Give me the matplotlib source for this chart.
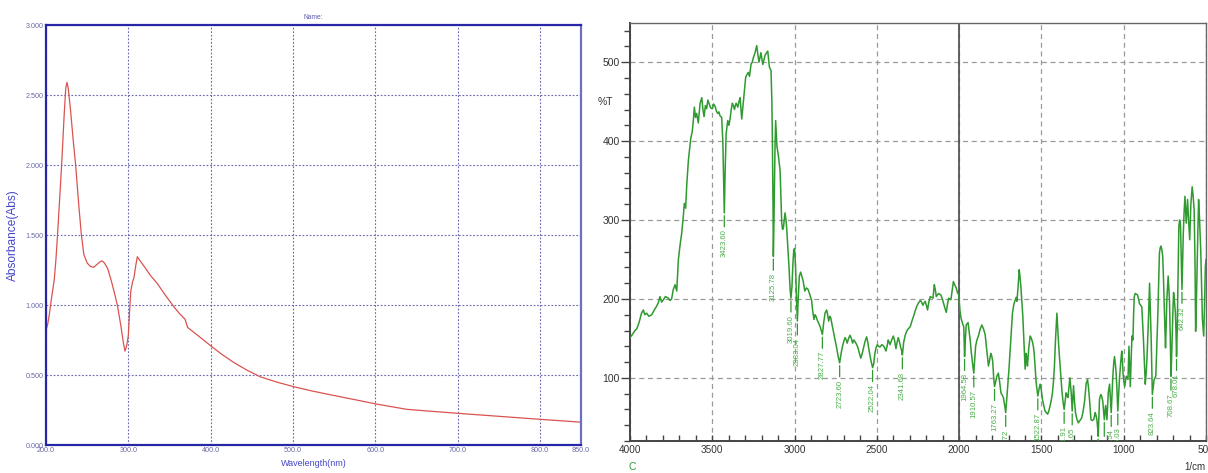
import matplotlib
matplotlib.use("Agg")
import matplotlib.pyplot as plt
from matplotlib.ticker import MultipleLocator, FixedLocator, FormatStrFormatter

# ---------------- data ----------------
uv_wavelength = [200, 202, 204, 206, 208, 210, 212, 214, 216, 219, 222, 224, 225.5, 227, 230, 233,
                 236, 240, 243, 246, 250, 254, 258, 262, 266, 268, 271, 275, 279, 283, 287, 291,
                 294, 296, 298, 300, 301.5, 303, 305, 307, 309, 311, 315, 320, 327, 335, 345, 355,
                 362, 369, 372, 385, 399, 413, 428, 444, 460, 480, 500, 520, 537, 570, 601, 638,
                 670, 701, 750, 799, 850]
uv_absorbance = [0.82, 0.86, 0.93, 1.02, 1.10, 1.18, 1.32, 1.50, 1.70, 2.00, 2.35, 2.55, 2.59, 2.55,
                 2.38, 2.18, 2.00, 1.70, 1.50, 1.36, 1.30, 1.275, 1.27, 1.29, 1.31, 1.315, 1.30,
                 1.26, 1.18, 1.09, 0.99, 0.85, 0.73, 0.67, 0.71, 0.78, 0.95, 1.10, 1.16, 1.20,
                 1.28, 1.345, 1.31, 1.27, 1.21, 1.155, 1.07, 0.99, 0.94, 0.898, 0.84, 0.78, 0.714,
                 0.65, 0.59, 0.535, 0.488, 0.45, 0.418, 0.39, 0.369, 0.33, 0.293, 0.255, 0.24,
                 0.226, 0.205, 0.184, 0.163]

ir_wavenumber = [4000, 3985, 3970, 3959, 3945, 3930, 3919, 3910, 3899, 3885, 3868, 3855, 3838, 3828,
                 3818, 3808, 3797, 3785, 3767, 3757, 3747, 3737, 3726, 3716, 3706, 3696, 3686, 3676,
                 3670, 3662, 3655, 3645, 3631, 3622, 3615, 3609, 3602, 3595, 3585, 3574, 3564, 3557,
                 3550, 3542, 3534, 3527, 3520, 3510, 3500, 3492, 3483, 3475, 3467, 3460, 3453, 3443,
                 3436, 3430, 3427, 3422, 3416, 3406, 3399, 3392, 3385, 3378, 3372, 3365, 3360, 3355,
                 3345, 3338, 3331, 3321, 3311, 3305, 3297, 3290, 3281, 3274, 3264, 3257, 3250, 3240,
                 3230, 3222, 3216, 3210, 3205, 3199, 3193, 3186, 3179, 3170, 3163, 3153, 3143, 3138,
                 3135, 3131, 3129, 3125, 3123, 3119, 3115, 3111, 3107, 3100, 3094, 3088, 3083, 3078,
                 3073, 3068, 3063, 3058, 3052, 3048, 3041, 3034, 3027, 3022, 3016, 3010, 3005, 3000,
                 2994, 2988, 2983, 2978, 2971, 2963, 2955, 2948, 2938, 2928, 2918, 2911, 2904, 2897,
                 2890, 2882, 2876, 2870, 2862, 2855, 2845, 2838, 2831, 2823, 2815, 2805, 2799, 2793,
                 2786, 2780, 2773, 2766, 2756, 2746, 2736, 2726, 2718, 2710, 2700, 2693, 2686, 2680,
                 2672, 2663, 2655, 2647, 2640, 2633, 2625, 2616, 2607, 2598, 2590, 2582, 2572, 2562,
                 2555, 2546, 2536, 2526, 2519, 2512, 2505, 2497, 2489, 2481, 2470, 2461, 2453, 2445,
                 2438, 2431, 2425, 2420, 2410, 2400, 2392, 2384, 2377, 2370, 2363, 2356, 2350, 2345,
                 2337, 2329, 2321, 2314, 2305, 2297, 2287, 2277, 2267, 2257, 2247, 2236, 2228, 2220,
                 2213, 2206, 2199, 2192, 2184, 2176, 2167, 2159, 2155, 2151, 2145, 2139, 2132, 2125,
                 2118, 2111, 2102, 2094, 2086, 2078, 2071, 2064, 2057, 2050, 2043, 2035, 2027, 2018,
                 2010, 2002, 1995, 1988, 1978, 1972, 1967, 1962, 1957, 1946, 1940, 1933, 1925, 1919,
                 1911, 1905, 1900, 1892, 1883, 1872, 1862, 1852, 1842, 1832, 1822, 1815, 1808, 1802,
                 1796, 1790, 1785, 1778, 1771, 1762, 1754, 1746, 1738, 1731, 1724, 1717, 1711, 1705,
                 1697, 1690, 1683, 1676, 1668, 1659, 1654, 1649, 1642, 1635, 1630, 1625, 1619, 1613,
                 1606, 1599, 1596, 1593, 1589, 1585, 1576, 1568, 1561, 1554, 1549, 1544, 1538, 1532,
                 1527, 1522, 1515, 1508, 1501, 1494, 1486, 1478, 1470, 1462, 1455, 1447, 1440, 1433,
                 1427, 1421, 1414, 1406, 1399, 1392, 1384, 1376, 1369, 1362, 1356, 1350, 1345, 1339,
                 1333, 1327, 1323, 1319, 1313, 1309, 1305, 1299, 1293, 1285, 1276, 1266, 1256, 1248,
                 1238, 1228, 1220, 1214, 1208, 1203, 1199, 1191, 1183, 1178, 1173, 1168, 1163, 1159,
                 1155, 1151, 1147, 1139, 1133, 1127, 1122, 1118, 1114, 1110, 1106, 1102, 1094, 1086,
                 1081, 1076, 1071, 1066, 1061, 1056, 1051, 1046, 1041, 1036, 1031, 1026, 1019, 1012,
                 1008, 1004, 999, 994, 989, 984, 979, 974, 968, 964, 960, 955, 950, 944, 940, 936,
                 930, 923, 916, 910, 904, 897, 890, 885, 880, 874, 869, 864, 859, 854, 849, 846,
                 843, 838, 833, 829, 826, 820, 815, 810, 805, 799, 793, 788, 783, 778, 773, 768,
                 763, 759, 755, 750, 746, 742, 738, 734, 730, 726, 722, 717, 713, 709, 705, 701,
                 697, 692, 686, 682, 679, 675, 672, 668, 665, 660, 655, 650, 646, 642, 638, 633,
                 628, 624, 620, 616, 612, 606, 599, 592, 584, 578, 572, 567, 563, 559, 555, 550,
                 545, 539, 532, 527, 522, 514, 508, 504, 500]
ir_transmittance = [151, 155, 160, 162, 170, 182, 186, 180, 182, 178, 180, 185, 191, 195,
                    203, 196, 199, 203, 201, 198, 200, 212, 218, 210, 250, 268, 283, 305,
                    321, 315, 345, 376, 403, 412, 426, 443, 430, 435, 423, 448, 455, 440,
                    431, 445, 441, 452, 448, 442, 441, 447, 444, 438, 435, 437, 432, 430,
                    400, 340, 309, 360, 409, 426, 420, 428, 440, 448, 445, 440, 445, 448,
                    443, 450, 455, 428, 450, 462, 481, 484, 487, 482, 498, 500, 506, 512,
                    521, 508, 500, 506, 512, 505, 497, 503, 509, 512, 514, 494, 489, 450,
                    405, 320, 254, 300, 334, 390, 426, 410, 393, 384, 374, 363, 330, 296,
                    288, 290, 300, 309, 300, 290, 265, 241, 212, 201, 215, 245, 262, 264,
                    240, 199, 172, 200, 229, 234, 228, 223, 210, 214, 212, 208, 203, 199,
                    185, 174, 180, 178, 173, 170, 165, 160, 155, 170, 182, 186, 180, 172,
                    178, 176, 168, 161, 150, 140, 128, 119, 130, 139, 147, 151, 148, 144,
                    150, 154, 150, 144, 148, 146, 143, 139, 132, 125, 130, 137, 146, 152,
                    145, 133, 122, 113, 118, 131, 138, 142, 140, 139, 142, 141, 138, 134,
                    140, 148, 145, 142, 148, 153, 147, 137, 145, 151, 146, 139, 135, 129,
                    145, 153, 158, 161, 163, 165, 172, 178, 185, 191, 195, 198, 196, 192,
                    195, 197, 192, 186, 196, 203, 202, 201, 210, 218, 212, 203, 205, 207,
                    206, 205, 200, 194, 188, 183, 193, 201, 200, 199, 210, 222, 218, 214,
                    208, 205, 185, 175, 168, 165, 127, 150, 167, 170, 160, 148, 130, 119,
                    106, 125, 140, 148, 153, 162, 167, 162, 155, 135, 115, 122, 131, 128,
                    121, 100, 89, 95, 102, 106, 95, 81, 78, 75, 66, 56, 72, 89,
                    112, 136, 160, 182, 193, 199, 202, 197, 215, 237, 228, 216, 198, 178,
                    145, 111, 120, 131, 125, 115, 140, 153, 150, 145, 140, 131, 112, 94,
                    85, 77, 85, 92, 85, 73, 65, 58, 56, 54, 58, 65, 72, 81,
                    95, 115, 150, 182, 155, 131, 108, 85, 70, 60, 70, 81, 78, 75,
                    88, 100, 90, 81, 58, 75, 90, 70, 56, 48, 43, 46, 49, 56,
                    70, 93, 98, 88, 73, 58, 47, 46, 47, 51, 56, 52, 47, 38,
                    26, 50, 73, 79, 76, 70, 58, 47, 56, 65, 56, 47, 81, 92,
                    75, 56, 80, 102, 118, 127, 118, 106, 85, 58, 78, 98, 118, 134,
                    122, 106, 95, 89, 96, 102, 100, 98, 140, 115, 89, 120, 153, 148, 180, 203,
                    207, 206, 205, 200, 194, 192, 190, 170, 148, 118, 92, 105, 123, 150, 178, 200,
                    220, 185, 148, 110, 79, 90, 98, 100, 102, 140, 178, 220, 258, 265, 267, 262,
                    254, 230, 199, 165, 138, 165, 199, 215, 229, 215, 199, 150, 102, 125, 157, 185,
                    208, 198, 182, 155, 127, 160, 199, 250, 292, 300, 294, 250, 212, 245, 283, 310,
                    330, 313, 296, 310, 326, 300, 275, 320, 342, 330, 313, 250, 159, 190, 233, 280,
                    326, 300, 262, 220, 175, 153, 200, 241, 250]

peak_wavenumber = [3427, 3129, 3022, 2983, 2831, 2726, 2526, 2345, 1967, 1911, 1785, 1717,
                   1522, 1362, 1313, 1155, 1118, 1076, 1036, 826, 713, 679, 646]
peak_value = [309, 254, 201, 172, 155, 119, 113, 129, 127, 106, 89, 56,
              77, 60, 58, 26, 47, 56, 58, 79, 102, 127, 212]
peak_text = ["3423.60", "3125.78", "3019.60", "2983.04", "2827.77", "2723.60", "2522.04",
             "2341.68", "1964.58", "1910.57", "1763.27", "1718.72", "1522.87", "1361.91",
             "1311.65", "", "", "1076.54", "1035.03", "823.64", "708.67",
             "678.01", "642.32"]

uv_xticks = [200, 300, 400, 500, 600, 700, 800, 850]
uv_yticks = [0.0, 0.5, 1.0, 1.5, 2.0, 2.5, 3.0]
ir_xticks = [4000, 3500, 3000, 2500, 2000, 1500, 1000, 500]
ir_yticks = [100, 200, 300, 400, 500]

# ---------------- figure ----------------
plt.rcParams['font.family'] = ['Liberation Sans', 'DejaVu Sans']
W, H = 1208, 473
fig = plt.figure(figsize=(W / 100, H / 100), dpi=100)

# ---- left: UV-Vis ----
blue = '#2626a6'
ax1 = fig.add_axes([46 / W, (H - 445) / H, 535 / W, 420 / H])
ax1.plot(uv_wavelength, uv_absorbance, color='#d9534f', lw=0.9)
ax1.set_xlim(200, 850)
ax1.set_ylim(0, 3.0)
ax1.xaxis.set_major_locator(FixedLocator(uv_xticks))
ax1.yaxis.set_major_locator(FixedLocator(uv_yticks))
ax1.xaxis.set_major_formatter(FormatStrFormatter('%.1f'))
ax1.yaxis.set_major_formatter(FormatStrFormatter('%.3f'))
ax1.tick_params(length=0, pad=1.5, labelsize=5.2, labelcolor='#6b6ba8')
ax1.grid(True, linestyle=(0, (1.6, 1.6)), color='#6a6ab4', lw=0.8)
for s in ['left', 'top', 'bottom']:
    ax1.spines[s].set_color(blue)
    ax1.spines[s].set_linewidth(1.6)
ax1.spines['right'].set_color('#6f6fc0')
ax1.spines['right'].set_linewidth(1.6)
ax1.set_title('Name:', fontsize=4.8, color='#5a5ab0', pad=4)
ax1.set_ylabel('Absorbance(Abs)', fontsize=8.6, color='#4646c8')
ax1.yaxis.set_label_coords(-0.05, 0.5)
ax1.set_xlabel('Wavelength(nm)', fontsize=6.5, color='#4646c8')
ax1.xaxis.set_label_coords(0.5, -0.033)

# ---- right: FTIR ----
green = '#2f9a2f'
lab_green = '#4cae4c'
ax2 = fig.add_axes([630 / W, (H - 441) / H, 576 / W, 418.3 / H])
ax2.plot(ir_wavenumber, ir_transmittance, color=green, lw=1.1, zorder=3)
ax2.set_xlim(4000, 500)
ax2.set_ylim(20, 550)
ax2.xaxis.set_major_locator(FixedLocator(ir_xticks))
ax2.xaxis.set_minor_locator(MultipleLocator(100))
ax2.yaxis.set_major_locator(FixedLocator(ir_yticks))
ax2.yaxis.set_minor_locator(MultipleLocator(20))
ax2.tick_params(axis='y', which='major', direction='out', length=6.5, width=1.0,
                color='#444444', labelsize=7.5, labelcolor='#333333', pad=1)
ax2.tick_params(axis='y', which='minor', direction='out', length=4, width=1.0, color='#444444')
ax2.tick_params(axis='x', which='major', direction='in', length=4, width=1.0,
                color='#444444', labelsize=7.2, labelcolor='#333333', pad=3)
ax2.tick_params(axis='x', which='minor', direction='in', length=4, width=1.0, color='#444444')
ax2.grid(True, which='major', linestyle=(0, (4, 3)), color='#9a9a9a', lw=0.9)
ax2.axvline(2000, color='#555555', lw=1.3, zorder=2)
for s in ['left', 'bottom']:
    ax2.spines[s].set_color('#444444')
    ax2.spines[s].set_linewidth(1.4)
for s in ['top', 'right']:
    ax2.spines[s].set_color('#666666')
    ax2.spines[s].set_linewidth(1.0)

for wn, val, txt in zip(peak_wavenumber, peak_value, peak_text):
    ann = ax2.annotate(txt, xy=(wn, val), xytext=(0, -12), textcoords='offset points',
                       rotation=90, ha='center', va='top', fontsize=5.6, color=lab_green,
                       clip_on=True,
                       arrowprops=dict(arrowstyle='-', color=green, lw=0.9,
                                       shrinkA=0, shrinkB=2))
    ann.arrow_patch.set_clip_path(ax2.patch)

ax2.text(-0.043, 0.81, '%T', transform=ax2.transAxes, fontsize=7.5, color='#333333',
         ha='center', va='center')
ax2.text(0.004, -0.062, 'C', transform=ax2.transAxes, fontsize=7.5, color=green,
         ha='center', va='center')
ax2.text(0.981, -0.062, '1/cm', transform=ax2.transAxes, fontsize=7, color='#333333',
         ha='center', va='center')

fig.savefig('out.png', dpi=100, facecolor='white')
